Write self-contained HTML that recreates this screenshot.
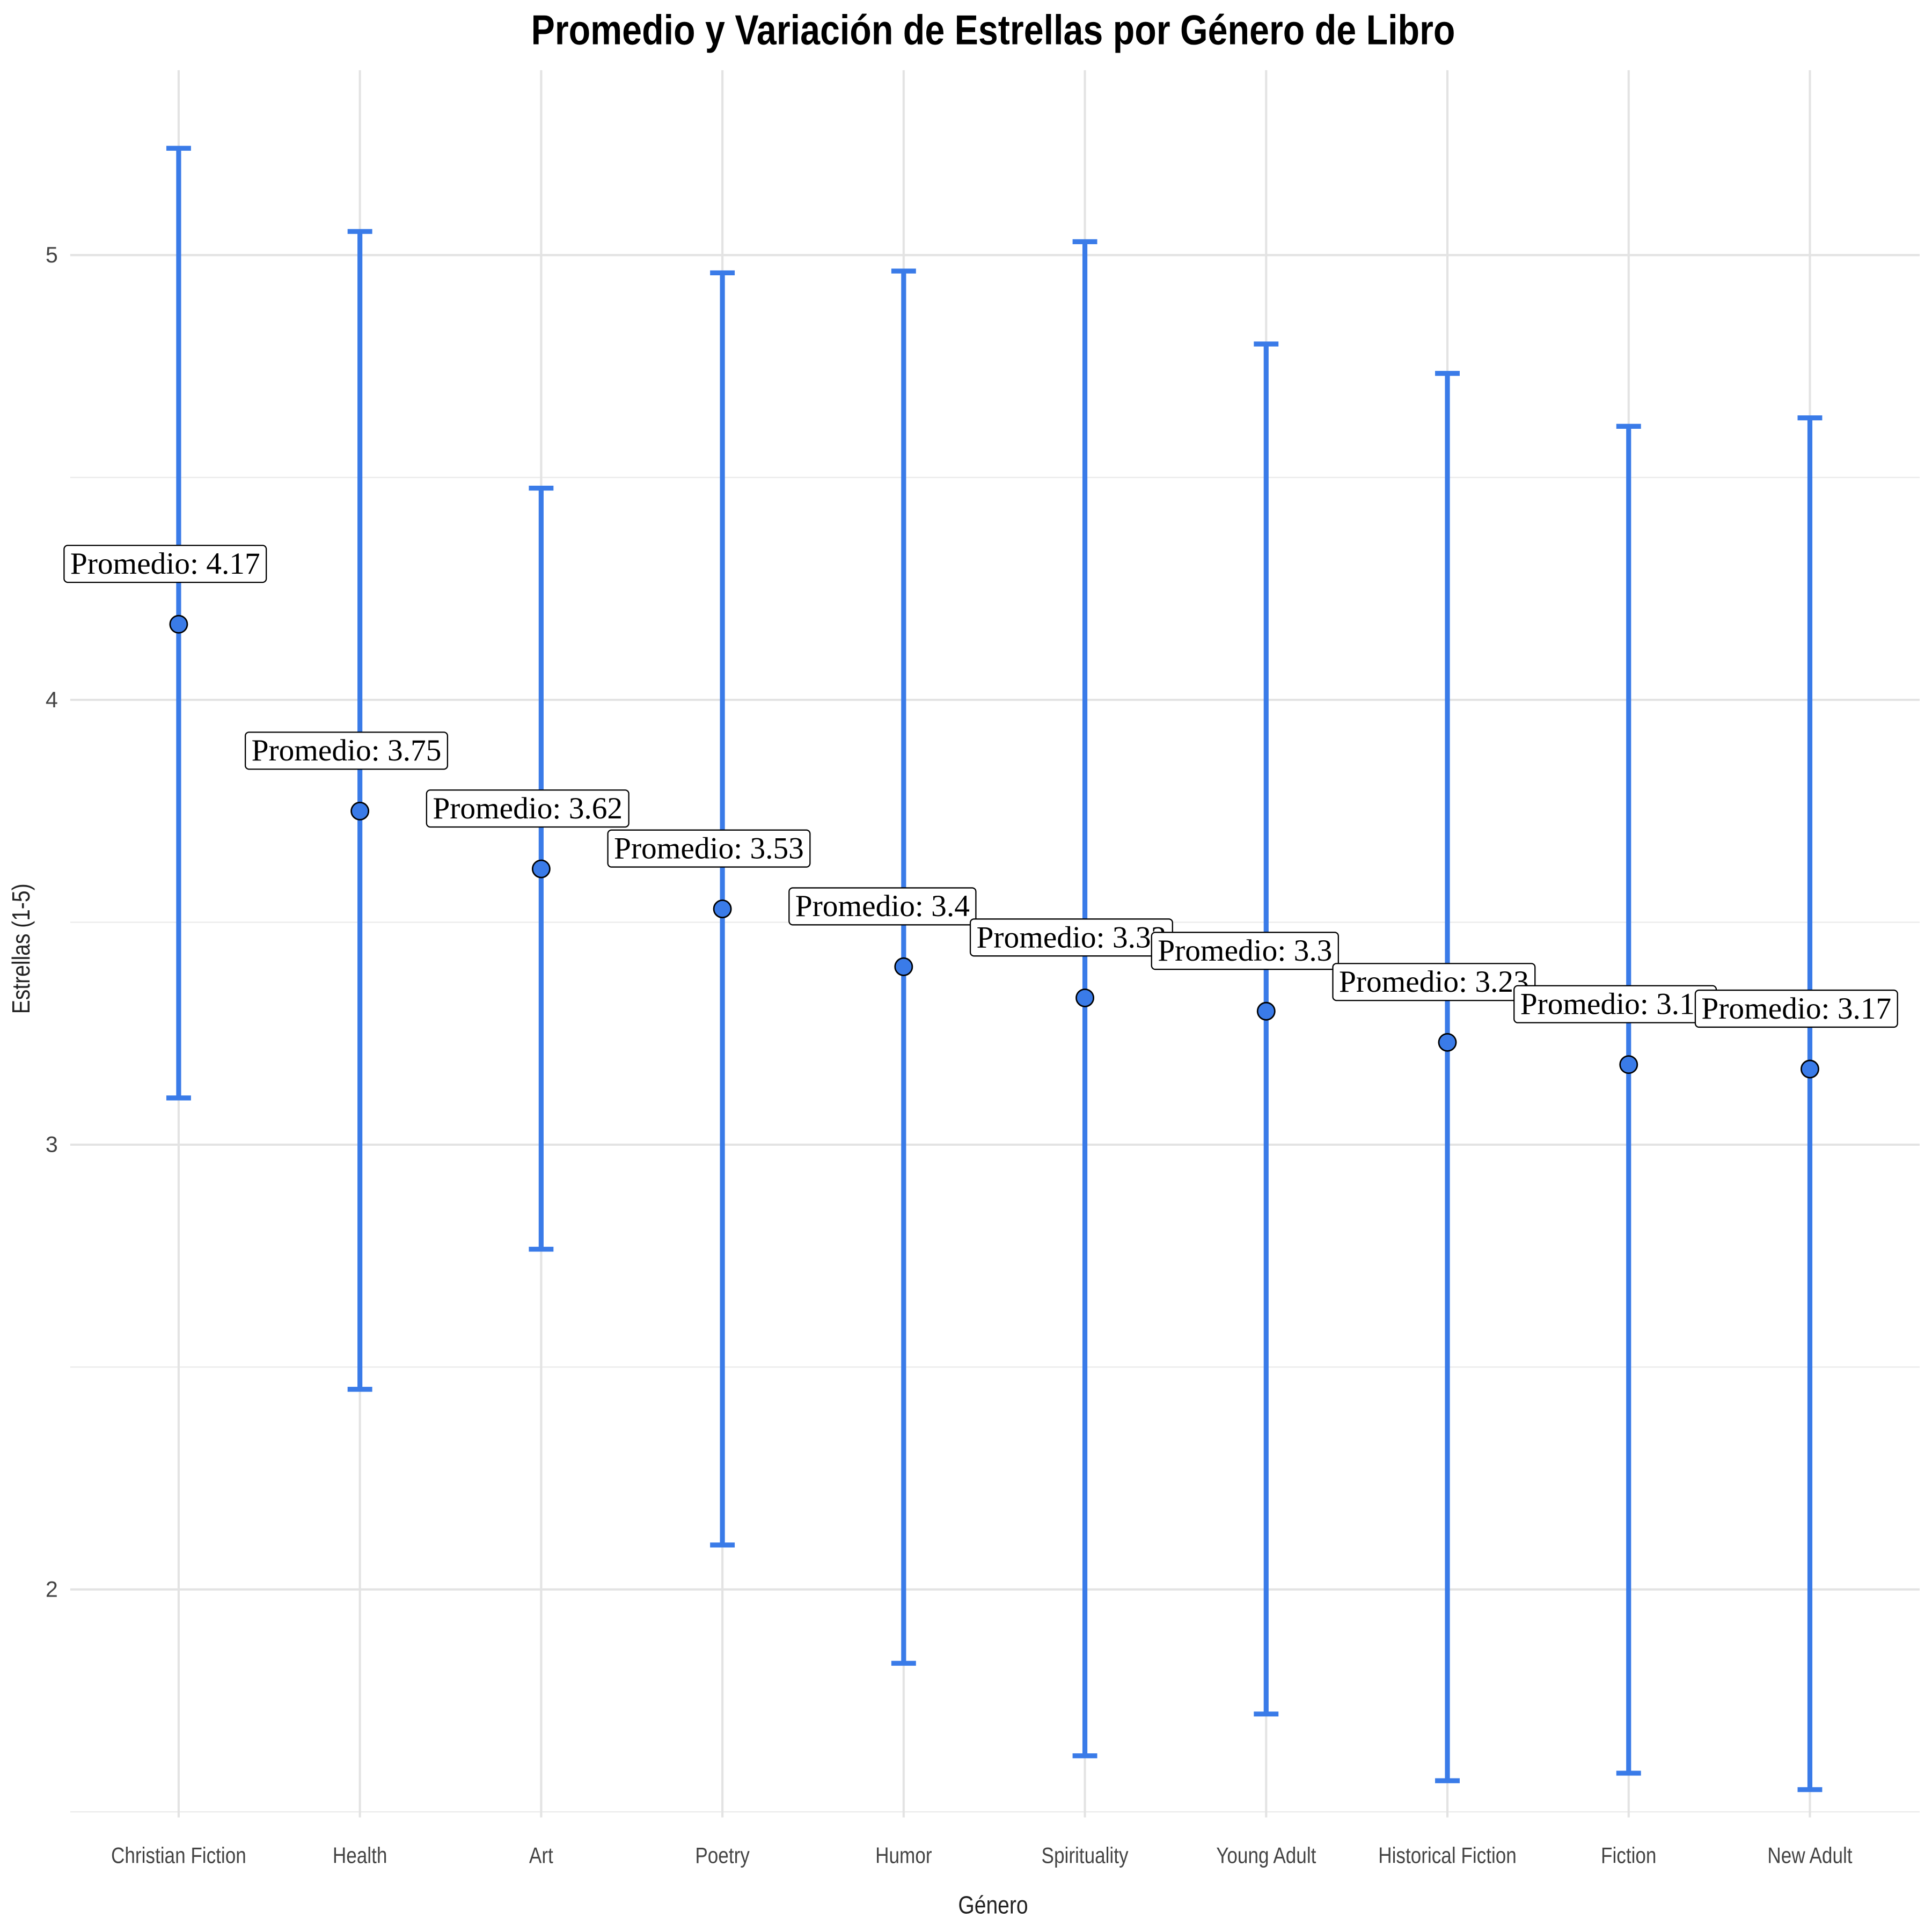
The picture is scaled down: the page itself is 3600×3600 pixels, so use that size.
<!DOCTYPE html>
<html><head><meta charset="utf-8"><style>
html,body{margin:0;padding:0;background:#fff}
svg{display:block}
</style></head><body>
<svg id="chart" width="3600" height="3600" viewBox="0 0 1568 1568" xmlns="http://www.w3.org/2000/svg">
<defs><clipPath id="clip"><rect x="0" y="40" width="1558" height="1450"/></clipPath></defs>
<rect width="1568" height="1568" fill="#fff"/>
<text x="806" y="36" text-anchor="middle" font-family="Liberation Sans Narrow, Liberation Sans, sans-serif" font-weight="bold" font-size="34" transform="translate(806,0) scale(0.85,1) translate(-806,0)" fill="#000">Promedio y Variación de Estrellas por Género de Libro</text>
<g id="grid"></g>
<g id="yticks"></g>
<g id="xticks"></g>
<g id="marks" clip-path="url(#clip)"></g>
<text x="806" y="1553" text-anchor="middle" font-family="Liberation Sans Narrow, Liberation Sans, sans-serif" font-size="20" fill="#222" transform="translate(806,0) scale(0.85,1) translate(-806,0)">Género</text>
<text x="0" y="0" text-anchor="middle" font-family="Liberation Sans Narrow, Liberation Sans, sans-serif" font-size="20" fill="#222" transform="translate(24,770) rotate(-90) scale(0.85,1)">Estrellas (1-5)</text>
</svg>
<script>
const categories=["Christian Fiction","Health","Art","Poetry","Humor","Spirituality","Young Adult","Historical Fiction","Fiction","New Adult"];
const means=[4.17,3.75,3.62,3.53,3.4,3.33,3.3,3.23,3.18,3.17];
const meanLabels=["4.17","3.75","3.62","3.53","3.4","3.33","3.3","3.23","3.18","3.17"];
const upper=[5.24,5.053,4.476,4.96,4.964,5.03,4.80,4.734,4.615,4.634];
const lower=[3.105,2.45,2.765,2.10,1.834,1.626,1.72,1.57,1.587,1.55];
const yTicks=[2,3,4,5];
const yMinor=[1.5,2.5,3.5,4.5];

const NS="http://www.w3.org/2000/svg";
const y=v=>568-(v-4)*361;
const x=i=>145+i*147.1;
const PL=57,PR=1558,PT=57,PB=1475;
function mk(tag,attrs,parent){const e=document.createElementNS(NS,tag);for(const k in attrs)e.setAttribute(k,attrs[k]);parent.appendChild(e);return e;}
const grid=document.getElementById('grid'),yt=document.getElementById('yticks'),xt=document.getElementById('xticks'),marks=document.getElementById('marks');
yMinor.forEach(v=>{const l=mk('line',{x1:PL,x2:PR,y1:y(v),y2:y(v),stroke:'#ebebeb','stroke-width':1},grid);

});
yTicks.forEach(v=>{const l=mk('line',{x1:PL,x2:PR,y1:y(v),y2:y(v),stroke:'#e3e3e3','stroke-width':1.8},grid);


const t=mk('text',{x:47,y:y(v)+6,'text-anchor':'end','font-family':'Liberation Sans Narrow, Liberation Sans, sans-serif','font-size':18,fill:'#444'},yt);
t.textContent=v;

});
categories.forEach((c,i)=>{const l=mk('line',{x1:x(i),x2:x(i),y1:PT,y2:PB,stroke:'#e3e3e3','stroke-width':1.8},grid);


const t=mk('text',{x:0,y:0,'text-anchor':'middle','font-family':'Liberation Sans Narrow, Liberation Sans, sans-serif','font-size':18,fill:'#444',transform:`translate(${x(i)},1512) scale(0.85,1)`},xt);
t.textContent=c;

});
categories.forEach((c,i)=>{const g=mk('g',{},marks);


const col='#3a7be8';
mk('line',{x1:x(i),x2:x(i),y1:y(upper[i]),y2:y(lower[i]),stroke:col,'stroke-width':4},g);
mk('line',{x1:x(i)-10,x2:x(i)+10,y1:y(upper[i]),y2:y(upper[i]),stroke:col,'stroke-width':4},g);
mk('line',{x1:x(i)-10,x2:x(i)+10,y1:y(lower[i]),y2:y(lower[i]),stroke:col,'stroke-width':4},g);
const p=mk('circle',{cx:x(i),cy:y(means[i]),r:7,fill:'#3a7be8',stroke:'#000','stroke-width':1.2},marks);

});
categories.forEach((c,i)=>{const lg=mk('g',{},marks);


const cy=y(means[i])-49;
const t0=x(i)-88;
const r=mk('rect',{x:x(i)-93,y:cy-15,width:186,height:30,rx:3,fill:'#fff',stroke:'#000','stroke-width':1},lg);
const t=mk('text',{x:t0,y:cy+8,'text-anchor':'start','font-family':'Liberation Serif, serif','font-size':25,fill:'#000'},lg);
t.textContent='Promedio: '+meanLabels[i];
const w=t.getComputedTextLength();
r.setAttribute('width',w+10);});
</script>
</body></html>
